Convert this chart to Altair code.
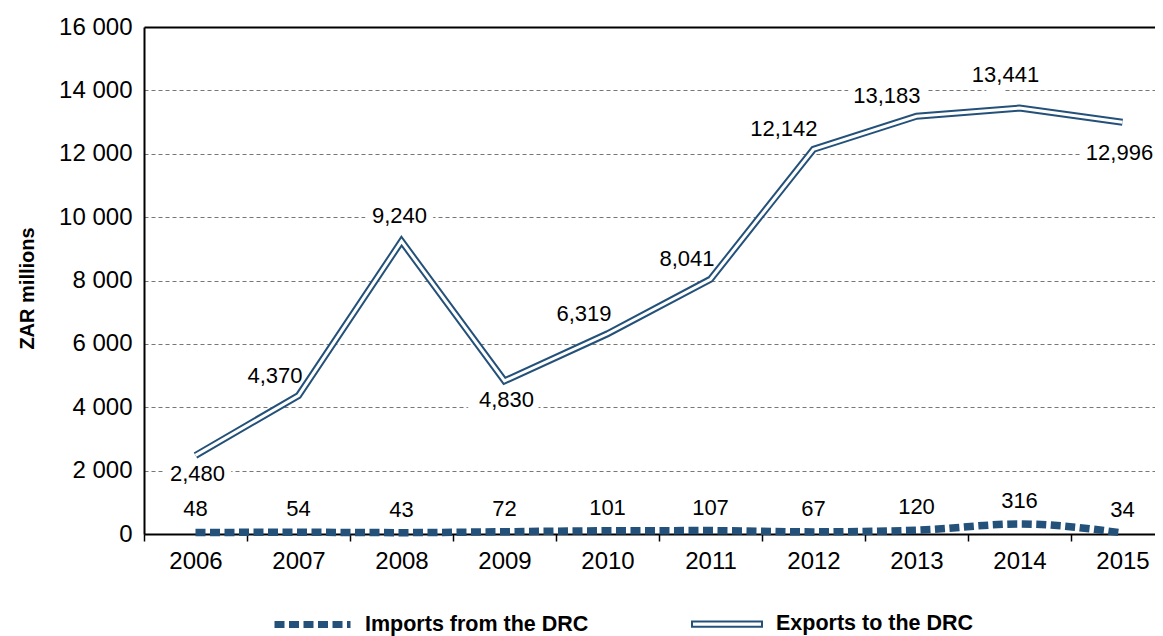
import altair as alt
import pandas as pd

years = [2006, 2007, 2008, 2009, 2010, 2011, 2012, 2013, 2014, 2015]
exports = [2480, 4370, 9240, 4830, 6319, 8041, 12142, 13183, 13441, 12996]
imports = [48, 54, 43, 72, 101, 107, 67, 120, 316, 34]
export_label_side = ["below", "left", "above", "below", "left", "left", "left", "left", "above_left", "below_far"]
y_ticks = [0, 2000, 4000, 6000, 8000, 10000, 12000, 14000, 16000]
year_bounds = [2005.5, 2006.5, 2007.5, 2008.5, 2009.5, 2010.5, 2011.5, 2012.5, 2013.5, 2014.5]

NAVY = "#24517a"
FONT = "Liberation Sans"
EXP = "Exports to the DRC"
IMP = "Imports from the DRC"

PLOT_W = 1011
SLOT = 103

df = pd.DataFrame({
    "yr": years,
    "exports": exports,
    "imports": imports,
    "side": export_label_side,
    "exp_label": [f"{v:,}" for v in exports],
    "imp_label": [str(v) for v in imports],
    "exp_series": [EXP] * len(years),
    "imp_series": [IMP] * len(years),
})

# x scale: each year is a fixed-width slot; the last slot runs past the right edge of the frame
x_scale = alt.Scale(domain=[2005.5, 2005.5 + PLOT_W / SLOT], nice=False, zero=False)

tick_axis = alt.Axis(
    title=None, values=year_bounds, labels=False, ticks=True, tickSize=7, tickColor="black",
    tickWidth=1.5, domain=True, domainColor="black", domainWidth=2, grid=False, orient="bottom",
)
label_axis = alt.Axis(
    title=None, values=years, format="d", labelAngle=0, ticks=False, domain=False, grid=False,
    labelFont=FONT, labelFontSize=24, labelColor="black", labelPadding=15, orient="bottom",
)


def x_enc(axis=None):
    return alt.X("yr:Q", scale=x_scale, axis=axis, title=None)


y_axis = alt.Axis(
    title="ZAR millions", values=y_ticks,
    labelExpr="replace(format(datum.value, ','), ',', ' ')",
    labelFont=FONT, labelFontSize=24, labelColor="black", labelPadding=12,
    ticks=False, domainColor="black", domainWidth=2,
    grid=True,
    gridDash={"condition": {"test": "datum.value === 16000", "value": [1, 0]}, "value": [4, 3]},
    gridColor={"condition": {"test": "datum.value === 16000", "value": "black"}, "value": "#777777"},
    gridWidth={"condition": {"test": "datum.value === 16000", "value": 2}, "value": 1},
    titleFont=FONT, titleFontSize=20, titleFontWeight="bold", titleColor="black",
    titleAngle=270, titleX=-117, titleY=261, titleAlign="center", titleBaseline="middle",
)
y_scale = alt.Scale(domain=[0, 16000], nice=False, zero=True)


def y_enc(field):
    return alt.Y(f"{field}:Q", scale=y_scale, axis=y_axis, title="ZAR millions")


base = alt.Chart(df)

placements = {
    "below": dict(align="center", dx=2, dy=19),
    "below_far": dict(align="center", dx=-3, dy=31),
    "above": dict(align="center", dx=-2, dy=-25),
    "above_left": dict(align="center", dx=-14, dy=-33),
    "left": dict(align="right", dx=4, dy=-20),
}

halo_layers = []
text_layers = []
for side, p in placements.items():
    sub = base.transform_filter(alt.datum.side == side)
    halo_layers.append(sub.mark_text(
        font=FONT, fontSize=22, stroke="white", strokeWidth=14, fill="white",
        baseline="middle", **p,
    ).encode(x=x_enc(), y=y_enc("exports"), text="exp_label:N"))
    text_layers.append(sub.mark_text(
        font=FONT, fontSize=22, color="black", baseline="middle", **p,
    ).encode(x=x_enc(), y=y_enc("exports"), text="exp_label:N"))

imp_halo = base.mark_text(font=FONT, fontSize=22, stroke="white", strokeWidth=14, fill="white",
                          baseline="middle", dy=-23).encode(
    x=x_enc(), y=y_enc("imports"), text="imp_label:N")
imp_text = base.mark_text(font=FONT, fontSize=22, color="black", baseline="middle", dy=-23).encode(
    x=x_enc(), y=y_enc("imports"), text="imp_label:N")

exp_outer = base.mark_line(strokeWidth=7, strokeJoin="miter").encode(
    x=x_enc(tick_axis), y=y_enc("exports"),
    stroke=alt.Stroke(
        "exp_series:N",
        scale=alt.Scale(domain=[EXP], range=[NAVY]),
        legend=alt.Legend(
            title=None, orient="none", legendX=547, legendY=561, padding=0,
            symbolType="M-1,-0.075H1V0.075H-1Z", symbolSize=4900,
            symbolFillColor="white", symbolStrokeColor=NAVY, symbolStrokeWidth=2,
            labelFont=FONT, labelFontSize=21.5, labelFontWeight="bold", labelColor="black",
            labelOffset=13, labelLimit=400,
        ),
    ),
)
exp_inner = base.mark_line(strokeWidth=3, color="white", strokeJoin="miter").encode(
    x=x_enc(), y=y_enc("exports"))

imp_line = base.mark_line(strokeWidth=7.5, color=NAVY, interpolate="monotone", strokeCap="butt").encode(
    x=x_enc(label_axis), y=y_enc("imports"),
    strokeDash=alt.StrokeDash(
        "imp_series:N",
        scale=alt.Scale(domain=[IMP], range=[[10, 4.5]]),
        legend=alt.Legend(
            title=None, orient="none", legendX=127, legendY=556, padding=0,
            symbolType="stroke", symbolSize=5776, symbolStrokeColor=NAVY, symbolStrokeWidth=7,
            labelFont=FONT, labelFontSize=21.5, labelFontWeight="bold", labelColor="black",
            labelOffset=11, labelLimit=400,
        ),
    ),
)

chart = alt.layer(
    *halo_layers, imp_halo,
    exp_outer, exp_inner, imp_line,
    *text_layers, imp_text,
).resolve_scale(x="shared").resolve_axis(x="independent").resolve_legend(
    stroke="independent", strokeDash="independent"
).properties(
    width=PLOT_W, height=507,
    autosize="none",
    padding={"left": 136, "top": 19, "right": 0, "bottom": 102},
    background="white",
).configure_view(stroke=None)

chart.save("out.html", embed_options={"renderer": "svg", "actions": False})
